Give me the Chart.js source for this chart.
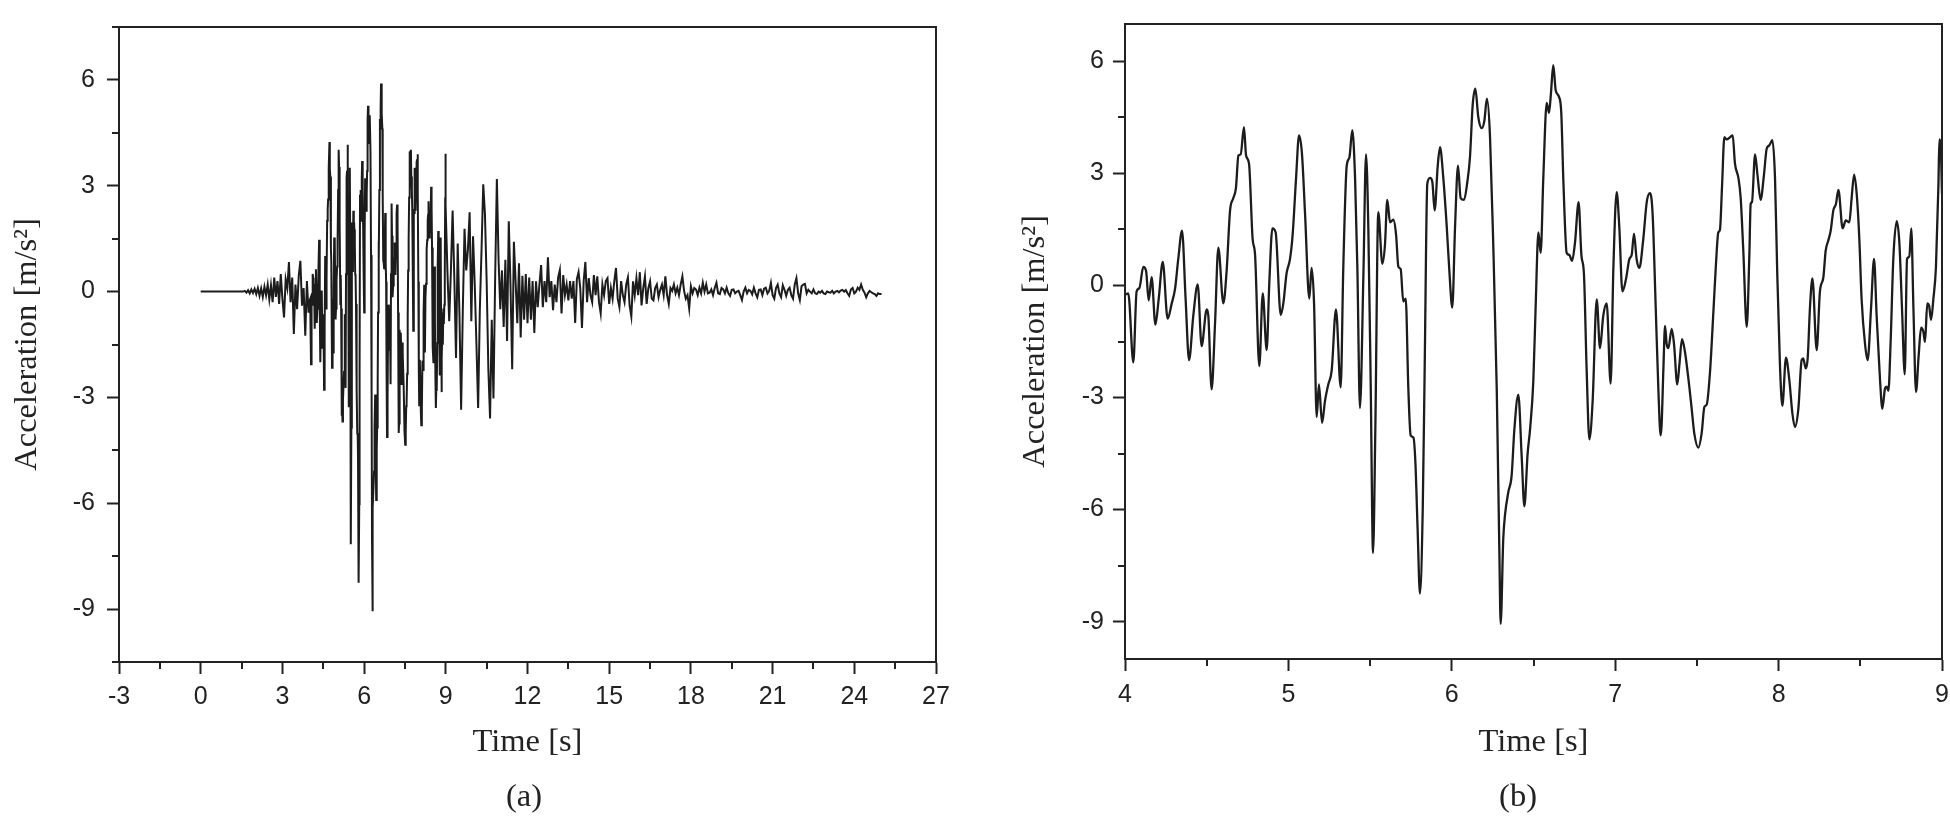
<!DOCTYPE html>
<html>
<head>
<meta charset="utf-8">
<script src="https://cdn.jsdelivr.net/npm/chart.js@4.4.1/dist/chart.umd.min.js"></script>
<style>
  body { margin: 0; background: #fff; overflow: hidden; }
  .panel { position: absolute; top: 0; }
</style>
</head>
<body>
<canvas id="chartA" class="panel" width="975" height="821" style="left:0"></canvas>
<canvas id="chartB" class="panel" width="975" height="821" style="left:975px"></canvas>
<script>
// full record, 0 - 4 s (sampled every 0.06 s)
const earlyStart = 0;
const earlyStep = 0.06;
const earlyAccel = [
  0, 0, 0, 0, 0, 0, 0, 0, 0, 0, 0, 0, 0, 0, 0, 0, 0, 0, 0, 0, 0, 0, 0, 0, 0, 0,
  0, 0.02, -0.03, 0.04, -0.05, 0.06, -0.04, 0.08, -0.07, 0.1,
  -0.12, 0.09, -0.15, 0.14, -0.1, 0.2, -0.22, 0.18, -0.3, 0.4,
  -0.15, 0.3, -0.35, 0.5, -0.2, -0.73, 0.35, 0.1, 0.84, -0.3,
  0.4, -1.2, 0.2, -0.5, 0.45, 0.87, -0.4, 0.1, -1.25, 0.3, -0.6,
];

// 4 - 9 s window, [time s, accel m/s2]
const windowPart1 = [
  [4.006, -0.24], [4.020, -0.21], [4.051, -2.06], [4.071, -0.16], [4.088, -0.07], [4.112, 0.50],
  [4.129, 0.39], [4.145, -0.40], [4.163, 0.22], [4.186, -1.05], [4.206, -0.37], [4.231, 0.63],
  [4.261, -0.89], [4.286, -0.48], [4.306, -0.10], [4.326, 0.71], [4.349, 1.47], [4.371, -0.37],
  [4.392, -2.00], [4.418, -0.81], [4.445, 0.03], [4.469, -1.62], [4.500, -0.64], [4.510, -0.81],
  [4.530, -2.78], [4.551, -1.02], [4.571, 1.01], [4.602, -0.48], [4.622, 0.39], [4.643, 2.01],
  [4.663, 2.34], [4.679, 2.61], [4.694, 3.48], [4.708, 3.51], [4.728, 4.24], [4.741, 3.48],
  [4.759, 3.26], [4.781, 1.25], [4.796, 0.82], [4.822, -2.16], [4.843, -0.21], [4.867, -1.73],
  [4.883, 0.06], [4.902, 1.53], [4.922, 1.42], [4.953, -0.79], [4.969, -0.48], [4.989, 0.33],
  [5.010, 0.71], [5.026, 1.36], [5.047, 2.88], [5.065, 4.02], [5.083, 3.53], [5.102, 1.91],
  [5.128, -0.35], [5.142, 0.47], [5.157, -0.48], [5.173, -3.52], [5.187, -2.65], [5.206, -3.68],
  [5.224, -3.09], [5.244, -2.65], [5.265, -2.27], [5.291, -0.64], [5.320, -2.73], [5.336, 0.49],
  [5.357, 3.21], [5.373, 3.42], [5.391, 4.16], [5.408, 2.88], [5.422, 0.49], [5.438, -3.28],
  [5.459, 0.28], [5.475, 3.51], [5.489, 1.58], [5.504, -2.76], [5.518, -7.16], [5.532, -3.85],
  [5.550, 1.96], [5.575, 0.58], [5.591, 1.09], [5.605, 2.29], [5.622, 1.69],
];
const windowPart2 = [
  [5.642, 1.76], [5.659, 1.36], [5.673, 0.50], [5.687, 0.44], [5.703, -0.43], [5.718, -0.35],
  [5.734, -2.76], [5.748, -4.01], [5.765, -4.07], [5.777, -4.72], [5.791, -6.56], [5.805, -8.25],
  [5.822, -6.02], [5.834, -2.22], [5.850, 2.72], [5.867, 2.88], [5.881, 2.77], [5.895, 2.01],
  [5.914, 3.21], [5.928, 3.70], [5.948, 2.88], [5.969, 1.58], [5.985, 0.39], [6.003, -0.59],
  [6.020, 1.58], [6.038, 3.21], [6.054, 2.34], [6.075, 2.29], [6.095, 2.77], [6.111, 3.42],
  [6.128, 4.84], [6.144, 5.27], [6.162, 4.51], [6.183, 4.21], [6.199, 4.40], [6.215, 5.00],
  [6.234, 3.97], [6.254, 1.04], [6.275, -2.76], [6.291, -7.10], [6.299, -9.06], [6.315, -6.78],
  [6.326, -6.13], [6.346, -5.53], [6.366, -5.10], [6.383, -3.85], [6.407, -2.92], [6.428, -4.61],
  [6.444, -5.91], [6.464, -4.50], [6.479, -3.85], [6.499, -2.55], [6.513, -0.59], [6.530, 1.42],
  [6.544, 0.87], [6.560, 2.88], [6.581, 4.89], [6.595, 4.62], [6.607, 5.16], [6.621, 5.90],
  [6.636, 5.22], [6.656, 5.05], [6.670, 4.62], [6.683, 2.77], [6.703, 0.87], [6.719, 0.82],
  [6.736, 0.66], [6.754, 1.15], [6.776, 2.23], [6.793, 0.82], [6.809, 0.28], [6.825, -2.22],
  [6.842, -4.12], [6.862, -3.09], [6.887, -0.37], [6.907, -1.68], [6.927, -0.81], [6.948, -0.48],
  [6.972, -2.63], [6.989, 0.49], [7.009, 2.50], [7.025, 1.58], [7.044, -0.16], [7.066, 0.17],
  [7.087, 0.71], [7.101, 0.82], [7.115, 1.39], [7.131, 0.71], [7.148, 0.47], [7.172, 1.25],
  [7.193, 2.23], [7.213, 2.47], [7.229, 1.91], [7.248, -0.59], [7.264, -2.76], [7.278, -4.01],
];
const windowPart3 = [
  [7.284, -3.74], [7.295, -2.22], [7.305, -1.08], [7.315, -1.57], [7.325, -1.68], [7.346, -1.16],
  [7.360, -1.57], [7.380, -2.65], [7.393, -2.11], [7.409, -1.44], [7.427, -1.78], [7.452, -2.65],
  [7.468, -3.30], [7.484, -3.96], [7.509, -4.34], [7.529, -3.96], [7.546, -3.25], [7.560, -3.19],
  [7.580, -2.33], [7.601, -0.70], [7.617, 0.60], [7.631, 1.42], [7.641, 1.49], [7.654, 2.67],
  [7.668, 3.97], [7.682, 3.91], [7.703, 3.97], [7.719, 4.02], [7.733, 3.26], [7.754, 2.88],
  [7.768, 2.34], [7.784, 0.93], [7.805, -1.11], [7.821, 0.82], [7.829, 2.18], [7.837, 2.23],
  [7.856, 3.51], [7.870, 2.99], [7.890, 2.29], [7.911, 2.99], [7.927, 3.66], [7.943, 3.75],
  [7.962, 3.89], [7.978, 2.88], [7.992, 0.28], [8.009, -2.22], [8.023, -3.22], [8.045, -1.93],
  [8.066, -2.55], [8.084, -3.41], [8.100, -3.79], [8.121, -3.30], [8.141, -2.00], [8.151, -1.95],
  [8.166, -2.22], [8.178, -1.95], [8.192, -0.59], [8.207, 0.19], [8.233, -1.73], [8.253, -0.16],
  [8.274, 0.22], [8.288, 0.93], [8.304, 1.20], [8.319, 1.47], [8.335, 2.01], [8.351, 2.18],
  [8.366, 2.56], [8.392, 1.53], [8.411, 1.74], [8.433, 1.69], [8.447, 2.34], [8.462, 2.97],
  [8.478, 2.45], [8.494, 1.25], [8.508, -0.37], [8.529, -1.57], [8.545, -2.00], [8.566, -0.59],
  [8.584, 0.71], [8.600, -0.81], [8.621, -2.55], [8.635, -3.30], [8.651, -2.76], [8.661, -2.71],
  [8.672, -2.82], [8.686, -1.46], [8.702, 0.71], [8.723, 1.72], [8.739, 1.15], [8.755, -0.59],
  [8.772, -2.38], [8.786, 0.71], [8.800, 0.77], [8.812, 1.53], [8.825, -0.59], [8.841, -2.85],
  [8.857, -1.89], [8.872, -1.13], [8.886, -1.24], [8.896, -1.51], [8.910, -0.48], [8.921, -0.54],
  [8.933, -0.92], [8.947, -0.37], [8.963, 0.50], [8.978, 2.67], [8.984, 3.91], [8.992, 3.75],
  [9.000, 2.45],
];

// full record, 9 - 25 s (sampled every 0.0625 s, one row per second)
const tailStart = 9.0625;
const tailStep = 0.0625;
const tailAccel = [
  0.5, -0.84, 0.6, 2.3, 0.4, -1.88, 1.36, -0.6, -3.35, -0.5, 1.78, 0.6, 1.2, 2.25, -0.84, 1.57,
  0.2, -1.5, -3.3, -0.5, 1.2, 3.04, 2.2, 0.3, -2.2, -3.6, -0.8, -3.03, 0.4, 3.19, 0.9, -0.5,
  0.6, -1.0, 0.9, -1.4, 1.99, 0.2, -2.2, 1.41, 0.3, -0.9, 0.8, -1.3, 0.45, -0.8, 0.5, -0.9,
  0.4, -0.8, 0.3, -1.17, 0.29, -0.44, 0.2, 0.75, -0.44, 0.3, -0.3, 0.97, -0.16, 0.3, -0.53, 0.2,
  -0.3, 0.4, 0.61, -0.62, 0.47, -0.1, 0.2, -0.25, 0.3, -0.2, 0.3, -0.89, 0.35, 0.55, 0.1, -1.03,
  0.3, 0.84, -0.3, 0.38, -0.1, -0.3, 0.47, -0.1, 0.43, -0.3, -0.62, 0.2, -0.1, 0.3, 0.38, -0.35,
  0.1, -0.2, 0.3, 0.67, -0.2, -0.44, 0.3, -0.1, -0.3, 0.2, 0.4, -0.4, -0.71, 0.29, -0.1, 0.38,
  -0.1, 0.55, -0.39, 0.1, 0.43, -0.35, 0.1, 0.29, -0.2, -0.25, 0.1, 0.2, -0.16, 0.05, 0.2, -0.1,
  0.43, -0.1, -0.35, 0.1, 0.02, 0.2, -0.05, 0.11, -0.1, 0.2, 0.43, 0.02, -0.2, -0.1, -0.48, 0.15,
  -0.05, 0.1, 0.06, -0.1, 0.11, -0.05, 0.25, 0.0, 0.2, -0.05, -0.03, 0.06, -0.1, 0.1, 0.25, -0.05,
  -0.07, 0.1, 0.06, -0.05, 0.11, -0.05, -0.12, 0.05, 0.06, -0.05, 0.0, 0.02, -0.1, -0.24, 0.0, 0.11,
  -0.05, 0.05, 0.02, -0.08, 0.11, -0.05, -0.16, 0.05, 0.06, -0.1, 0.08, 0.11, -0.05, 0.02, 0.25, -0.1,
  -0.2, 0.1, 0.2, -0.05, -0.16, 0.18, 0.05, -0.12, 0.05, 0.11, -0.1, -0.2, 0.2, 0.38, -0.05, -0.24,
  0.15, 0.2, 0.22, -0.05, 0.05, 0.0, -0.05, 0.06, -0.05, -0.07, 0.0, -0.03, 0.02, -0.05, -0.07, 0.0,
  -0.02, -0.03, 0.02, -0.05, 0.0, 0.02, -0.02, 0.03, 0.05, 0.0, 0.04, -0.05, -0.12, 0.06, 0.1, -0.05,
  0.0, 0.11, 0.05, 0.2, 0.05, -0.03, -0.16, -0.05, 0.02, -0.02, -0.05, -0.07, -0.12, -0.05, -0.07, -0.07,
];

// axes
const xTicksA = [-3, 0, 3, 6, 9, 12, 15, 18, 21, 24, 27];
const xMinorA = [-1.5, 1.5, 4.5, 7.5, 10.5, 13.5, 16.5, 19.5, 22.5, 25.5];
const yTicksA = [-9, -6, -3, 0, 3, 6];
const yMinorA = [-10.5, -7.5, -4.5, -1.5, 1.5, 4.5, 7.5];
const xTicksB = [4, 5, 6, 7, 8, 9];
const xMinorB = [4.5, 5.5, 6.5, 7.5, 8.5];
const yTicksB = [-9, -6, -3, 0, 3, 6];
const yMinorB = [-7.5, -4.5, -1.5, 1.5, 4.5];

const xTitle = "Time [s]";
const yTitle = "Acceleration [m/s\u00B2]";
const panelNames = ["(a)", "(b)"];

const ink = "#222222";
const tickFont = { family: '"Liberation Sans", Arial, sans-serif', size: 25 };

const windowPoints = windowPart1.concat(windowPart2, windowPart3).map(([t, a]) => ({ x: t, y: a }));
const fullPoints = [
  ...earlyAccel.map((a, i) => ({ x: earlyStart + i * earlyStep, y: a })),
  ...windowPoints,
  ...tailAccel.map((a, i) => ({ x: tailStart + i * tailStep, y: a })),
];

// frame, minor ticks and the serif captions
const decorations = {
  id: "decorations",
  afterDraw(chart, args, opts) {
    const { ctx, chartArea: area, scales } = chart;
    ctx.save();
    ctx.strokeStyle = ink;
    ctx.lineWidth = 2;
    ctx.strokeRect(area.left, area.top, area.right - area.left, area.bottom - area.top);
    ctx.beginPath();
    opts.minorX.forEach((v) => {
      const px = Math.round(scales.x.getPixelForValue(v));
      ctx.moveTo(px, area.bottom);
      ctx.lineTo(px, area.bottom + 7);
    });
    opts.minorY.forEach((v) => {
      const py = Math.round(scales.y.getPixelForValue(v));
      ctx.moveTo(area.left, py);
      ctx.lineTo(area.left - 7, py);
    });
    ctx.stroke();

    ctx.fillStyle = ink;
    ctx.font = '32.5px "Liberation Serif", "Times New Roman", serif';
    ctx.textAlign = "center";
    ctx.textBaseline = "middle";
    ctx.fillText(xTitle, (area.left + area.right) / 2, 742);
    ctx.fillText(opts.name, opts.nameX, 797);
    ctx.translate(opts.yTitleX, (area.top + area.bottom) / 2);
    ctx.rotate(-Math.PI / 2);
    ctx.fillText(yTitle, 0, 0);
    ctx.restore();
  },
};

function axis(min, max, ticks, axisSize, labelPad, isX) {
  return {
    type: "linear",
    min: min,
    max: max,
    afterBuildTicks: (scale) => {
      scale.ticks = ticks.map((v) => ({ value: v }));
    },
    afterFit: (scale) => {
      if (isX) {
        scale.height = axisSize;
        // edge labels may hang into the layout padding
        scale.paddingLeft = 0;
        scale.paddingRight = 0;
      } else {
        scale.width = axisSize;
      }
    },
    grid: {
      drawOnChartArea: false,
      drawTicks: true,
      tickLength: 12,
      tickWidth: 2,
      tickColor: ink,
    },
    border: { display: true, color: ink, width: 2 },
    ticks: {
      color: ink,
      font: tickFont,
      padding: labelPad,
      autoSkip: false,
      maxRotation: 0,
    },
  };
}

function makeConfig(points, lineWidth, smooth, xs, ys, padding, deco) {
  return {
    type: "scatter",
    data: {
      datasets: [
        {
          data: points,
          showLine: true,
          borderColor: "#1c1c1c",
          borderWidth: lineWidth,
          pointRadius: 0,
          cubicInterpolationMode: smooth ? "monotone" : "default",
          tension: 0,
        },
      ],
    },
    options: {
      responsive: false,
      animation: false,
      devicePixelRatio: 1,
      layout: { padding: padding },
      plugins: {
        legend: { display: false },
        tooltip: { enabled: false },
        decorations: deco,
      },
      scales: { x: xs, y: ys },
    },
    plugins: [decorations],
  };
}

new Chart(
  document.getElementById("chartA"),
  makeConfig(
    fullPoints,
    2,
    false,
    axis(-3, 27, xTicksA, 159, 8, true),
    axis(-10.5, 7.5, yTicksA, 119, 12, false),
    { top: 4, left: 0, right: 39, bottom: 0 },
    { minorX: xMinorA, minorY: yMinorA, name: panelNames[0], nameX: 524, yTitleX: 27 }
  )
);

new Chart(
  document.getElementById("chartB"),
  makeConfig(
    windowPoints,
    2.3,
    true,
    axis(4, 9, xTicksB, 162, 9, true),
    axis(-10, 7, yTicksB, 150, 9, false),
    { top: 1, left: 0, right: 8, bottom: 0 },
    { minorX: xMinorB, minorY: yMinorB, name: panelNames[1], nameX: 543, yTitleX: 60 }
  )
);
</script>
</body>
</html>
